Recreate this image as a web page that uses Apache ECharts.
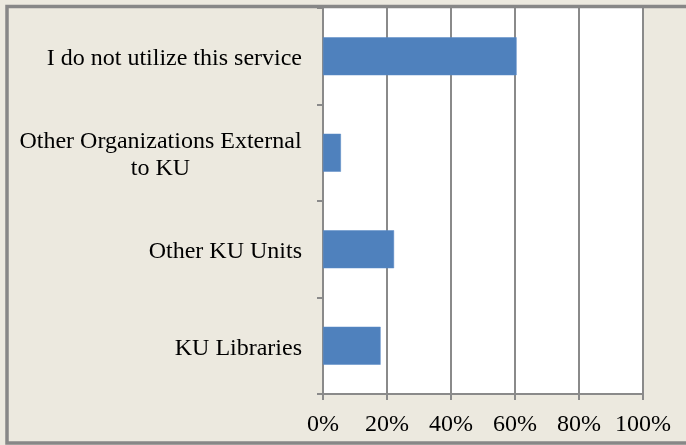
<!DOCTYPE html>
<html>
<head>
<meta charset="utf-8">
<script src="https://cdn.jsdelivr.net/npm/echarts@6/dist/echarts.min.js"></script>
<style>
html,body{margin:0;padding:0;background:#ECE9DF;}
#chart{width:686px;height:445px;}
</style>
</head>
<body>
<div id="chart"></div>
<script>
const categories = ['KU Libraries', 'Other KU Units', 'Other Organizations External to KU', 'I do not utilize this service'];
const values = [18.0, 22.2, 5.6, 60.5];
const tickLabels = ['0%', '20%', '40%', '60%', '80%', '100%'];

const chart = echarts.init(document.getElementById('chart'), null, {renderer: 'canvas'});
const gray = '#8a8a8a';
const font = '"Liberation Serif", "Times New Roman", serif';

chart.setOption({
  backgroundColor: '#ECE9DF',
  animation: false,
  graphic: [{
    type: 'rect',
    shape: {x: 7, y: 6.5, width: 720, height: 436.5},
    style: {fill: 'none', stroke: '#878787', lineWidth: 3.5},
    z: 100
  }],
  grid: {
    left: 323, right: 43, top: 8, bottom: 51,
    show: true, backgroundColor: '#ffffff', borderWidth: 0
  },
  xAxis: {
    type: 'value', min: 0, max: 100, interval: 20,
    axisLine: {show: true, lineStyle: {color: gray, width: 2}},
    axisTick: {show: true, length: 6, lineStyle: {color: gray, width: 2}},
    splitLine: {show: true, lineStyle: {color: gray, width: 2}},
    axisLabel: {
      color: '#000', fontFamily: font, fontSize: 24, margin: 19,
      formatter: function (v) { return tickLabels[Math.round(v / 20)]; }
    }
  },
  yAxis: {
    type: 'category', data: categories,
    axisLine: {show: true, lineStyle: {color: gray, width: 2}},
    axisTick: {show: true, length: 6, lineStyle: {color: gray, width: 2}},
    axisLabel: {
      color: '#000', fontFamily: font, fontSize: 24, margin: 21, lineHeight: 27,
      padding: [5, 0, 0, 0],
      formatter: function (v) {
        if (v === 'Other Organizations External to KU') {
          return '{c|Other Organizations External}\n{c|to KU}';
        }
        return v;
      },
      rich: {
        c: {width: 283, align: 'center', fontFamily: font, fontSize: 24, color: '#000', lineHeight: 27}
      }
    }
  },
  series: [{
    type: 'bar', data: values, barWidth: 38,
    itemStyle: {color: '#4F81BD', borderColor: '#5A8AC6', borderWidth: 0.5}
  }]
});
</script>
</body>
</html>
